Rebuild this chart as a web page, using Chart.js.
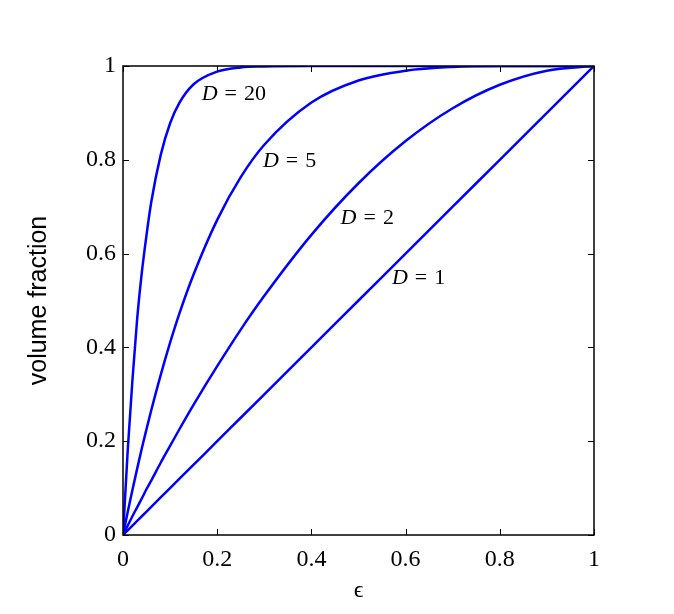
<!DOCTYPE html>
<html lang="en">
<head>
    <meta charset="UTF-8">
    <title>Volume fraction</title>
    <script src="https://cdn.jsdelivr.net/npm/chart.js"></script>
    <style>
        body { margin: 0; background: #fff; }
    </style>
</head>
<body>
    <canvas id="grafico" width="674" height="614"></canvas>

<script>
    // epsilon values where the curves were read
    const eps = [0, 0.01, 0.02, 0.03, 0.04, 0.05, 0.06, 0.08, 0.1, 0.12, 0.15, 0.2, 0.25, 0.3, 0.4, 0.5, 0.6, 0.7, 0.8, 0.9, 1];

    const d20 = [0, 0.18, 0.33, 0.46, 0.56, 0.64, 0.71, 0.81, 0.878, 0.922, 0.961, 0.988, 0.997, 0.999, 1, 1, 1, 1, 1, 1, 1];
    const d5  = [0, 0.049, 0.096, 0.141, 0.185, 0.226, 0.266, 0.341, 0.41, 0.473, 0.556, 0.672, 0.763, 0.832, 0.922, 0.969, 0.99, 0.998, 1, 1, 1];
    const d2  = [0, 0.02, 0.04, 0.059, 0.078, 0.098, 0.116, 0.154, 0.19, 0.226, 0.278, 0.36, 0.438, 0.51, 0.64, 0.75, 0.84, 0.91, 0.96, 0.99, 1];
    const d1  = [0, 0.01, 0.02, 0.03, 0.04, 0.05, 0.06, 0.08, 0.1, 0.12, 0.15, 0.2, 0.25, 0.3, 0.4, 0.5, 0.6, 0.7, 0.8, 0.9, 1];

    const curvas = [
        { label: 'D = 20', valores: d20 },
        { label: 'D = 5', valores: d5 },
        { label: 'D = 2', valores: d2 },
        { label: 'D = 1', valores: d1 }
    ];

    // where the text labels sit (data coordinates, left edge + baseline)
    const etiquetas = [
        { texto: '20', x: 0.167, y: 0.928 },
        { texto: '5', x: 0.297, y: 0.785 },
        { texto: '2', x: 0.462, y: 0.663 },
        { texto: '1', x: 0.571, y: 0.535 }
    ];

    const xTicks = [0, 0.2, 0.4, 0.6, 0.8, 1];
    const yTicks = [0, 0.2, 0.4, 0.6, 0.8, 1];

    const serif = '"Liberation Serif", "DejaVu Serif", serif';

    const marco = {
        id: 'marco',
        afterDatasetsDraw(chart) {
            const { ctx, chartArea: a, scales } = chart;
            ctx.save();
            ctx.strokeStyle = '#000';
            ctx.lineWidth = 1.5;
            ctx.strokeRect(a.left, a.top, a.right - a.left, a.bottom - a.top);
            ctx.lineWidth = 1;
            const t = 6;
            ctx.beginPath();
            xTicks.forEach(v => {
                const px = Math.round(scales.x.getPixelForValue(v)) + 0.5;
                ctx.moveTo(px, a.bottom); ctx.lineTo(px, a.bottom - t);
                ctx.moveTo(px, a.top); ctx.lineTo(px, a.top + t);
            });
            yTicks.forEach(v => {
                const py = Math.round(scales.y.getPixelForValue(v)) + 0.5;
                ctx.moveTo(a.left, py); ctx.lineTo(a.left + t, py);
                ctx.moveTo(a.right, py); ctx.lineTo(a.right - t, py);
            });
            ctx.stroke();

            // D = n labels
            ctx.fillStyle = '#000';
            ctx.textBaseline = 'alphabetic';
            etiquetas.forEach(e => {
                let px = scales.x.getPixelForValue(e.x);
                const py = scales.y.getPixelForValue(e.y);
                ctx.font = 'italic 22px ' + serif;
                ctx.fillText('D', px, py);
                px += ctx.measureText('D').width + 7;
                ctx.font = '22px ' + serif;
                ctx.fillText('=', px, py);
                px += ctx.measureText('=').width + 7;
                ctx.fillText(e.texto, px, py);
            });
            ctx.restore();
        }
    };

    const ctx = document.getElementById('grafico').getContext('2d');
    new Chart(ctx, {
        type: 'line',
        data: {
            datasets: curvas.map(c => ({
                label: c.label,
                data: eps.map((e, i) => ({ x: e, y: c.valores[i] })),
                borderColor: '#0000ff',
                borderWidth: 2.5,
                pointRadius: 0,
                fill: false,
                cubicInterpolationMode: 'monotone'
            }))
        },
        options: {
            responsive: false,
            animation: false,
            layout: { padding: { top: 66, right: 80, left: 20, bottom: 8 } },
            plugins: {
                legend: { display: false },
                tooltip: { enabled: false }
            },
            scales: {
                x: {
                    type: 'linear',
                    min: 0,
                    max: 1,
                    afterBuildTicks: s => { s.ticks = xTicks.map(v => ({ value: v })); },
                    afterFit: s => { s.height = 71; },
                    grid: { display: false, drawTicks: false },
                    border: { display: false },
                    ticks: {
                        color: '#000',
                        padding: 10,
                        maxRotation: 0,
                        font: { family: serif, size: 24 },
                        callback: v => String(v)
                    },
                    title: {
                        display: true,
                        text: 'ϵ',
                        color: '#000',
                        padding: { top: 0, bottom: 1 },
                        font: { family: serif, size: 24 }
                    }
                },
                y: {
                    min: 0,
                    max: 1,
                    afterBuildTicks: s => { s.ticks = yTicks.map(v => ({ value: v })); },
                    afterFit: s => { s.width = 103; },
                    grid: { display: false, drawTicks: false },
                    border: { display: false },
                    ticks: {
                        color: '#000',
                        padding: 7,
                        font: { family: serif, size: 24 },
                        callback: v => String(v)
                    },
                    title: {
                        display: true,
                        text: 'volume fraction',
                        color: '#000',
                        font: { family: '"Liberation Sans", Arial, sans-serif', size: 25 }
                    }
                }
            }
        },
        plugins: [marco]
    });
</script>
</body>
</html>
